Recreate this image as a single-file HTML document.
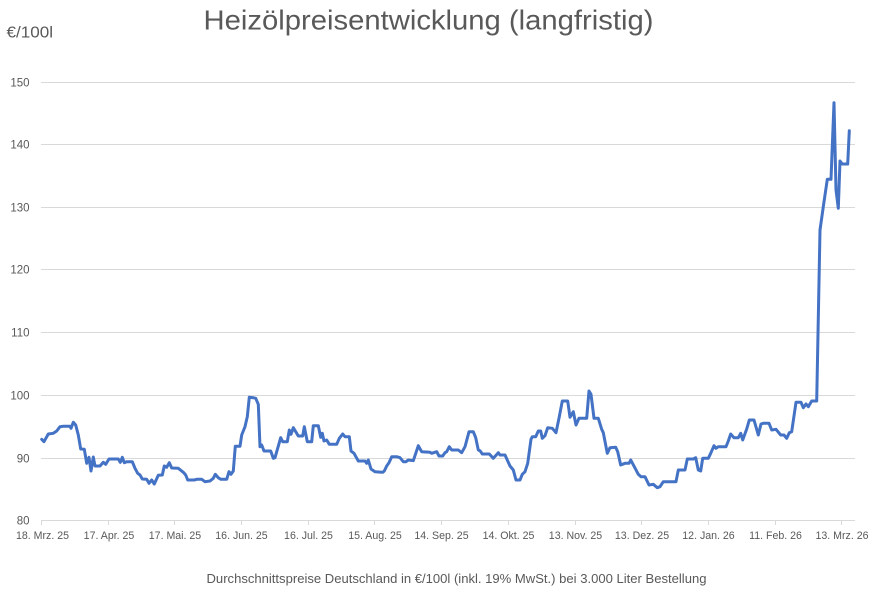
<!DOCTYPE html>
<html>
<head>
<meta charset="utf-8">
<style>
  html,body{margin:0;padding:0;background:#fff;}
  svg{display:block;}
  text{font-family:"Liberation Sans",sans-serif;fill:#595959;}
</style>
</head>
<body>
<svg width="884" height="605" viewBox="0 0 884 605" xmlns="http://www.w3.org/2000/svg">
  <rect x="0" y="0" width="884" height="605" fill="#ffffff"/>
  <!-- Title -->
  <text x="203.5" y="29.5" font-size="28" textLength="450" lengthAdjust="spacingAndGlyphs">Heizölpreisentwicklung (langfristig)</text>
  <!-- Y axis title -->
  <text x="6.5" y="37.5" font-size="15.5" textLength="46.5" lengthAdjust="spacingAndGlyphs">€/100l</text>

  <!-- gridlines -->
  <g stroke="#d9d9d9" stroke-width="1">
    <line x1="41" y1="82.5" x2="855" y2="82.5"/>
    <line x1="41" y1="144.5" x2="855" y2="144.5"/>
    <line x1="41" y1="207.5" x2="855" y2="207.5"/>
    <line x1="41" y1="269.5" x2="855" y2="269.5"/>
    <line x1="41" y1="332.5" x2="855" y2="332.5"/>
    <line x1="41" y1="395.5" x2="855" y2="395.5"/>
    <line x1="41" y1="458.5" x2="855" y2="458.5"/>
    <line x1="41" y1="520.5" x2="855" y2="520.5"/>
    <!-- ticks -->
    <line x1="41.5" y1="520" x2="41.5" y2="525"/>
    <line x1="108.5" y1="520" x2="108.5" y2="525"/>
    <line x1="174.5" y1="520" x2="174.5" y2="525"/>
    <line x1="241.5" y1="520" x2="241.5" y2="525"/>
    <line x1="308.5" y1="520" x2="308.5" y2="525"/>
    <line x1="374.5" y1="520" x2="374.5" y2="525"/>
    <line x1="441.5" y1="520" x2="441.5" y2="525"/>
    <line x1="508.5" y1="520" x2="508.5" y2="525"/>
    <line x1="575.5" y1="520" x2="575.5" y2="525"/>
    <line x1="641.5" y1="520" x2="641.5" y2="525"/>
    <line x1="708.5" y1="520" x2="708.5" y2="525"/>
    <line x1="775.5" y1="520" x2="775.5" y2="525"/>
    <line x1="841.5" y1="520" x2="841.5" y2="525"/>
  </g>

  <!-- y tick labels -->
  <g font-size="11.5" text-anchor="end">
    <text x="29.5" y="86.5">150</text>
    <text x="29.5" y="148.5">140</text>
    <text x="29.5" y="211.5">130</text>
    <text x="29.5" y="273.5">120</text>
    <text x="29.5" y="336.5">110</text>
    <text x="29.5" y="399.5">100</text>
    <text x="29.5" y="462.5">90</text>
    <text x="29.5" y="524.5">80</text>
  </g>

  <!-- x tick labels -->
  <g font-size="10.6" text-anchor="middle">
    <text x="42.5" y="539">18. Mrz. 25</text>
    <text x="109" y="539">17. Apr. 25</text>
    <text x="175" y="539">17. Mai. 25</text>
    <text x="241.5" y="539">16. Jun. 25</text>
    <text x="308.5" y="539">16. Jul. 25</text>
    <text x="375" y="539">15. Aug. 25</text>
    <text x="441.5" y="539">14. Sep. 25</text>
    <text x="508.5" y="539">14. Okt. 25</text>
    <text x="575.5" y="539">13. Nov. 25</text>
    <text x="642" y="539">13. Dez. 25</text>
    <text x="708.5" y="539">12. Jan. 26</text>
    <text x="775.5" y="539">11. Feb. 26</text>
    <text x="842" y="539">13. Mrz. 26</text>
  </g>

  <!-- series -->
  <polyline fill="none" stroke="#4472C4" stroke-width="3" stroke-linejoin="round" stroke-linecap="round"
    points="41.7,439.3 44,441.7 48.3,434 53.3,433.3 56.7,431 60,426.7 63.3,426.3 70,426.3 71,428.3 73.3,422.3 75.7,425 78.3,435 80.7,449 84.3,449.3 86.7,463.3 89,457.3 91,471 93.3,457 95,466 100,466 103.3,462.3 105.7,464.3 109,459 118.3,459 120.3,462.3 122.3,457.3 124.3,462.7 126.7,461.7 132.3,461.7 135,468.3 137.7,473.3 140,475 142.3,479 146.7,479.3 149,483.3 151.7,480 154.3,484 158.3,475.3 162.3,475 164.3,466 166.7,467.3 169.3,462.7 171.7,468 178.3,468.3 183.3,472.3 185.7,475 187.7,480 194.3,480 196.7,479.3 201.7,479.3 205,481.7 210,481 213.3,478.3 215.3,474.3 218.3,477.7 220.7,479.3 226.7,479.3 229,471.7 231,474.3 233.3,471 235.3,446.3 240,446.3 241.7,435 245,426.7 247.3,416.7 249.3,397.3 253.3,397.7 255.7,398.3 258.3,404.3 260,446.7 261.7,445 264,451 270.7,451 273.3,458.3 275,457.7 280.7,437.7 282.7,441.7 287.3,441.7 289.3,430 291,434.3 293.3,427.7 298.3,436 302.7,436 304.3,426.7 307.3,441.7 311.7,441.7 313.3,425.7 318.3,425.7 320.7,437.3 322.3,433.3 324,441 326.7,440 329.3,444.3 336.7,444.3 339.3,438.3 342.7,434 345,436.7 349.3,436.7 351,451 354,453.3 358.3,461 365,461 366.7,463.3 368.3,460 371,469 375,471.7 382.7,472.3 384.3,471 386.7,466 389,462.7 391.7,456.7 396.7,456.7 400,457.7 403.3,461.7 406,461.7 408.3,460 413.3,460.7 418.3,445.7 421.7,451.7 430,452.3 431.7,453.3 436.7,451.7 439,456 442.7,456 445,452.7 446.7,451.7 449.3,446.7 451.7,450 458.3,450 461.7,452.7 465,446.7 469,431.7 473.3,431.7 475.7,437.7 478.3,450 480,450.7 482.3,454 489.3,454 493.3,458.3 498.3,452.7 500,455 505,455 510,466 513.3,470 516,480 520,480 522.3,474.3 525,471.7 527.7,463.3 531,439.3 532.3,436.7 535.7,436.7 538.3,431 540.7,431 542.3,438.3 545,435.7 547.7,427.7 552.3,428.3 556,432.7 559.3,416.7 562.3,401 567.7,401 570,417.3 573.3,411.7 576,425 579,418.3 586.7,418.3 589,391 591,394.3 594,418.3 598.3,418.3 601.7,429.3 603.3,432.7 607.3,453.3 610,447.7 615.7,447.3 617.7,451.7 620.7,465 625,463.3 629,463.3 630.7,460 634.3,466.7 638.3,474.3 641,476.7 645,476.7 649,485 653.3,484.3 657.3,487.7 660,486.7 663.3,481.7 676,481.7 678.3,470 685,470 687.3,459 693.3,459 695.7,457.7 698.3,470 700.7,471 702.7,458.3 708.3,458.3 710.7,453.3 714,445.7 716,448.3 718.3,446.7 726,446.7 728.3,441 730.7,434 734,437.7 738.3,437.7 740.7,433.3 742.7,440 746.7,429 749.3,420 754,420 758.3,435 761,424 763.3,423.3 769,423.3 771.7,430 776,429.3 780.7,435 784,435 786.7,438.3 789.3,432.7 791.7,431.7 796,402.3 801,402.3 803.3,407.7 806,404 808.3,406.7 811.7,401 816.7,401 820,230 823.3,206.7 827.3,179.3 831,179.3 834,102.7 836,190 838.3,208.3 840,161 842.3,164 847.7,164 849.3,130.7"/>

  <!-- caption -->
  <text x="206.5" y="583" font-size="12.8" textLength="500" lengthAdjust="spacingAndGlyphs">Durchschnittspreise Deutschland in €/100l (inkl. 19% MwSt.) bei 3.000 Liter Bestellung</text>
</svg>
</body>
</html>
